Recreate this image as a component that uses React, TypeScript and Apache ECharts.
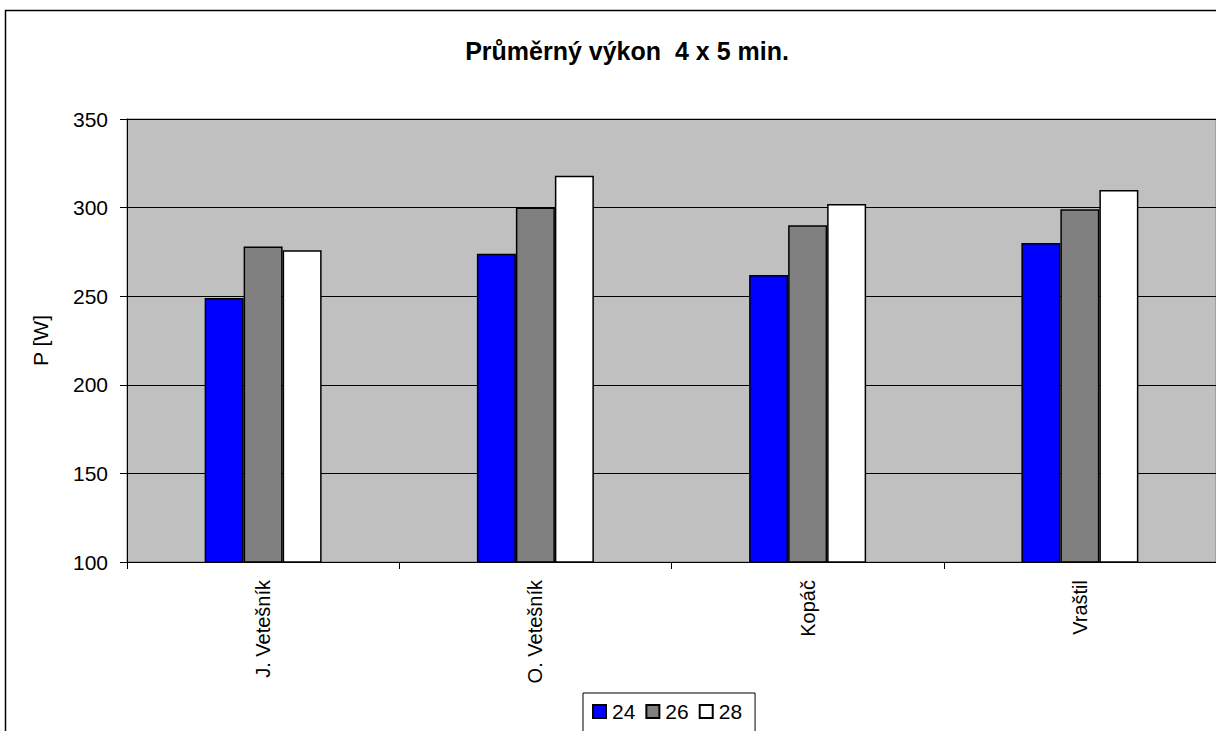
import React, { useEffect, useRef } from "react";
import * as echarts from "echarts";

const categories = ["J. Vetešník", "O. Vetešník", "Kopáč", "Vraštil"];
const seriesNames = ["24", "26", "28"];
const values24 = [249, 274, 262, 280];
const values26 = [278, 300, 290, 299];
const values28 = [276, 318, 302, 310];
const seriesColors = ["#0000ff", "#808080", "#ffffff"];

export default function App() {
  const ref = useRef<HTMLDivElement>(null);
  useEffect(() => {
    if (!ref.current) return;
    const chart = echarts.init(ref.current, undefined, { renderer: "svg" });
    const data = [values24, values26, values28];
    const font = "Arial, 'Liberation Sans', sans-serif";
    chart.setOption({
      animation: false,
      backgroundColor: "#ffffff",
      title: {
        text: "Průměrný výkon  4 x 5 min.",
        left: 622,
        top: 33,
        textAlign: "center",
        textStyle: { fontFamily: font, fontWeight: "bold", fontSize: 25, color: "#000" },
      },
      graphic: [
        {
          type: "rect",
          shape: { x: 5.5, y: 10.5, width: 1300, height: 800 },
          style: { fill: "none", stroke: "#000", lineWidth: 1.5 },
          silent: true,
          z: 100,
        },
      ],
      legend: {
        data: seriesNames,
        left: 583,
        top: 693,
        orient: "horizontal",
        icon: "rect",
        itemWidth: 13,
        itemHeight: 13,
        itemGap: 10,
        padding: [8, 13, 40, 9],
        borderColor: "#000",
        borderWidth: 1,
        backgroundColor: "#fff",
        textStyle: { fontFamily: font, fontSize: 21, color: "#000", padding: [0, 0, 0, 1] },
      },
      grid: {
        left: 127,
        top: 119,
        width: 1091,
        height: 443,
        show: true,
        backgroundColor: "#c0c0c0",
        borderColor: "#808080",
        borderWidth: 1,
      },
      xAxis: {
        type: "category",
        data: categories,
        boundaryGap: true,
        axisLine: { lineStyle: { color: "#000", width: 1 } },
        axisTick: { show: true, length: 7, lineStyle: { color: "#000" } },
        axisLabel: {
          rotate: 90,
          margin: 18,
          fontFamily: font,
          fontSize: 20,
          color: "#000",
        },
      },
      yAxis: {
        type: "value",
        min: 100,
        max: 350,
        interval: 50,
        name: "P [W]",
        nameLocation: "middle",
        nameRotate: 90,
        nameGap: 76,
        nameTextStyle: { fontFamily: font, fontSize: 21, color: "#000" },
        axisLine: { show: true, lineStyle: { color: "#000", width: 1 } },
        axisTick: { show: true, length: 7, lineStyle: { color: "#000" } },
        axisLabel: { margin: 19, fontFamily: font, fontSize: 21, color: "#000" },
        splitLine: { show: true, lineStyle: { color: "#000", width: 1 } },
      },
      series: seriesNames.map((name, i) => ({
        name,
        type: "bar",
        data: data[i],
        barWidth: 39,
        barGap: "0%",
        itemStyle: { color: seriesColors[i], borderColor: "#000", borderWidth: 1.5 },
      })),
    });
    return () => chart.dispose();
  }, []);
  return (
    <div
      ref={ref}
      style={{ position: "absolute", left: 0, top: 0, width: 1216, height: 731 }}
    />
  );
}
